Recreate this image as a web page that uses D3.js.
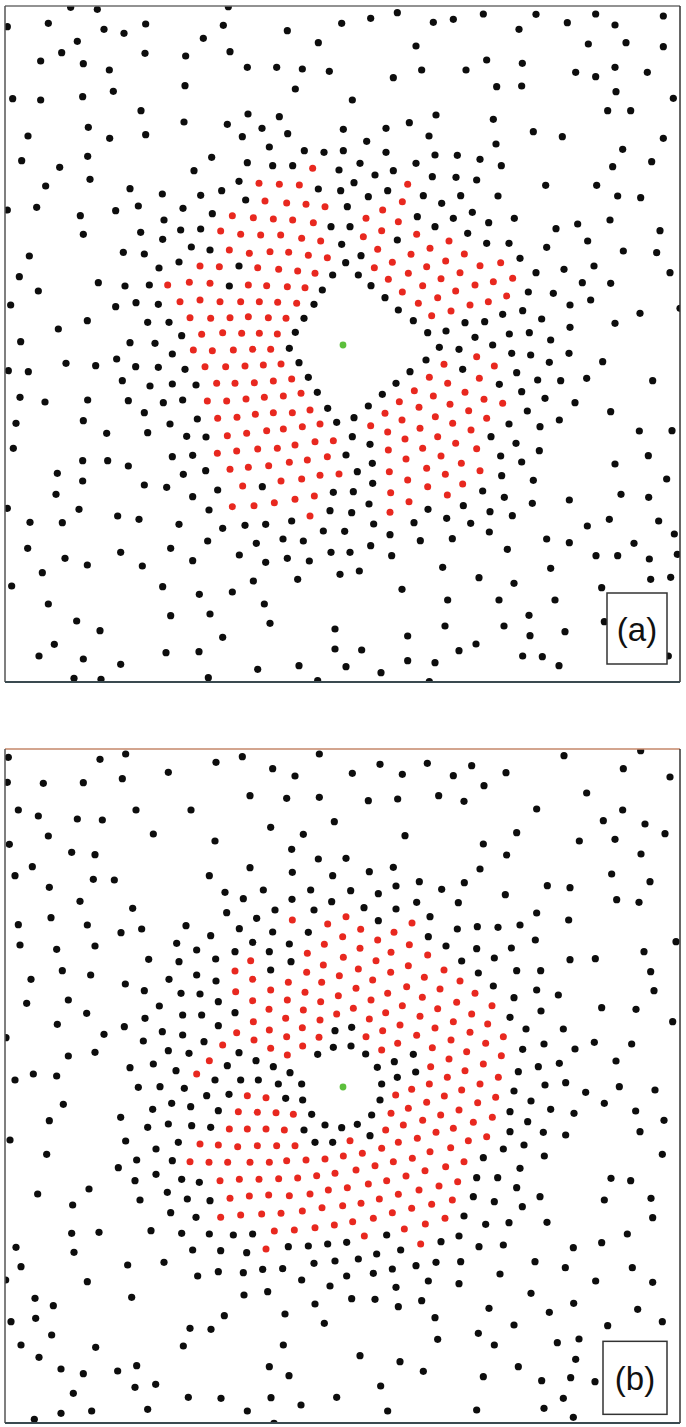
<!DOCTYPE html>
<html><head><meta charset="utf-8">
<script src="https://cdn.jsdelivr.net/npm/d3@7"></script>
<style>html,body{margin:0;padding:0;background:#fff;}svg{display:block;}</style>
</head><body>
<svg id="chart" width="686" height="1427"></svg>
<script>
// Data in panel units (0..2040 horizontally, 0..2050 vertically)
const panelLabels = ["(a)", "(b)"];
const aCenter = [[1029,1035]];
const bCenter = [[1029,1041]];
const aBlack = [
[212,22],[292,28],[685,20],[22,80],[145,70],[312,88],[372,100],[437,72],[670,76],[862,92],
[232,124],[610,115],[955,128],[185,158],[435,160],[557,168],[690,155],
[122,183],[250,191],[328,210],[742,202],[830,202],[907,207],[988,214],[555,257],[886,267],
[38,296],[122,300],[248,290],[340,274],[423,332],[744,342],[838,350],[552,366],[682,373],[786,385],
[265,382],[84,408],[329,415],[437,404],[727,410],[863,401],[808,441],[913,452],[972,457],
[65,482],[263,469],[179,502],[635,472],[742,488],[818,497],[878,497],[1017,510],[270,538],[582,512],
[137,558],[390,566],[487,582],[717,544],[955,567],
[22,630],[110,622],[347,632],[415,618],[549,625],[602,586],[665,572],[737,600],
[241,647],[492,660],[637,641],[993,680],[250,703],[422,697],[488,718],[542,690],[602,687],
[88,768],[370,757],[433,762],[574,741],[630,750],[58,830],[477,804],[537,786],[717,798],[998,825],
[115,873],[295,848],[375,858],[448,855],[688,858],[967,870],[32,915],[347,920],[408,908],[475,913],[942,913],
[262,962],[443,967],[507,967],[912,955],[175,987],[545,1007],[886,997],
[1025,70],[1112,55],[1192,38],[1300,67],[1360,58],[1450,42],[1557,88],[1608,43],[1702,68],[1787,42],[1845,75],[1990,48],
[1248,138],[1765,132],[1878,128],[1990,140],[1460,180],[1567,190],[1265,210],[1398,210],[1180,233],[1727,217],[1787,230],[1845,202],[1942,217],
[1490,260],[1565,258],[1848,275],[1057,300],[2020,295],[1823,332],[1892,332],[1308,345],[1228,368],[1480,358],
[1030,388],[1158,385],[1600,395],[1287,408],[1687,410],[1990,415],[1100,424],[1488,432],[1030,452],[1158,457],[1868,448],
[1305,465],[1372,466],[1440,478],[1080,490],[1248,490],[1504,497],[1838,500],[1955,485],
[1180,512],[1125,525],[1297,530],[1368,532],[1430,540],[1062,548],[1637,556],[1790,556],
[1163,572],[1105,590],[1270,587],[1382,587],[1494,588],[1853,588],[1922,593],[1022,572],[1325,610],[1042,620],[1417,637],
[1252,650],[1360,655],[1466,668],[1543,655],[1733,672],[1830,660],[1050,680],[1305,680],[1403,700],[1668,686],[1980,692],
[1192,720],[1460,730],[1527,730],[1763,723],[1025,733],[1640,742],[1870,753],[1970,758],[1083,767],[1560,775],[1037,788],
[1782,798],[1692,808],[1608,818],[2010,818],[1075,825],[1113,857],[1747,848],[1832,850],[1585,876],[1660,880],
[1155,893],[1772,900],[1710,915],[1195,930],[1568,932],[1508,943],[1920,940],[2040,925],
[1240,962],[1395,968],[1454,965],[1625,957],[1710,982],[1845,970],[1283,998],[1338,993],[1528,1002],[1588,998],[1425,1012],
[62,1025],[390,1028],[465,1030],[868,1045],[517,1062],
[25,1112],[85,1115],[198,1090],[287,1097],[350,1077],[407,1100],[475,1102],[555,1108],[897,1088],
[367,1142],[450,1158],[517,1152],[588,1155],[925,1132],[60,1192],[135,1206],[263,1200],[385,1202],[490,1208],[548,1200],[952,1177],
[48,1270],[250,1262],[433,1238],[510,1272],[592,1257],[983,1225],[320,1300],[443,1298],[560,1309],[618,1311],[1010,1267],
[40,1345],[517,1370],[578,1366],[248,1382],[323,1382],[385,1398],[617,1412],[172,1420],[248,1443],[550,1423],[787,1460],
[168,1483],[433,1455],[500,1462],[653,1470],[578,1490],[1000,1477],[22,1525],[237,1528],[627,1530],[990,1532],
[90,1567],[187,1568],[353,1548],[417,1558],[537,1573],[668,1585],[735,1576],[797,1573],[875,1563],[970,1593],
[83,1645],[512,1645],[623,1623],[769,1630],[849,1617],[910,1623],
[195,1675],[262,1695],[362,1657],[427,1698],[578,1682],[718,1665],[797,1687],[862,1675],[928,1683],[993,1657],[127,1718],
[35,1758],[488,1760],[598,1783],[697,1776],[760,1743],[893,1738],[145,1812],[630,1842],[793,1812],
[230,1863],[300,1892],[512,1847],[810,1870],[1005,1887],[163,1933],[668,1912],[1005,1947],
[117,1968],[250,1977],[362,1993],[498,1958],[597,1955],[897,1997],[222,2035],[303,2038],[625,2033],[773,2008],[953,2042],
[1318,1042],[1377,1048],[1478,1035],[1652,1020],[1535,1060],[1592,1065],[1707,1060],[1648,1087],[1808,1085],
[1278,1080],[1388,1108],[1230,1115],[1550,1118],[1498,1153],[1613,1140],[1682,1142],[1760,1135],[1958,1142],
[1188,1150],[1565,1175],[1147,1183],[1635,1195],[1725,1208],[1105,1218],[1582,1233],[1832,1235],[1062,1253],[1678,1260],
[1527,1272],[1620,1280],[1918,1293],[2016,1292],[1057,1310],[1473,1310],[1548,1330],[1110,1333],[1618,1352],
[1038,1365],[1502,1368],[1565,1386],[1845,1392],[1945,1367],[1117,1390],[1072,1415],[1505,1427],[1600,1441],[2000,1437],
[1118,1450],[1060,1475],[1448,1473],[1513,1492],[1597,1510],[1708,1500],[1863,1483],[1946,1492],
[1107,1512],[1390,1517],[1284,1528],[1470,1535],[1537,1547],[1055,1538],
[1340,1555],[1121,1572],[1242,1568],[1412,1570],[1762,1578],[1828,1558],[1976,1563],[1034,1594],
[1468,1596],[1170,1604],[1261,1622],[1357,1616],[1640,1617],[1708,1628],[1902,1630],[2023,1602],
[1112,1637],[1050,1657],[1175,1667],[1522,1648],[1788,1667],[1853,1667],[1948,1677],[2032,1663],
[1020,1723],[1078,1713],[1328,1702],[1652,1705],[1206,1768],[1437,1733],[1542,1750],[1805,1763],[1952,1738],[2012,1732],
[1343,1800],[1497,1800],[1665,1800],[1970,1798],[1335,1878],[1512,1878],[1587,1846],[1695,1895],[1590,1907],[1813,1865],
[1223,1908],[1428,1932],[1085,1950],[1377,1952],[1223,1982],[1305,1988],[1038,2000],[1568,1968],[1627,1970],[1677,1997],[2005,1968],
[1143,2018],[1288,2045]
];
const aRed = [
[938,505],[777,550],[838,553],[898,555],[795,603],[860,609],[918,613],[975,620],
[697,647],[760,653],[820,657],[878,660],[940,668],[662,693],[722,703],[782,705],[842,705],[905,715],[962,723],
[688,750],[748,760],[810,755],[866,757],[925,766],[982,773],[600,798],[658,800],[773,803],[836,808],[893,813],[945,820],
[503,855],[568,847],[630,850],[745,855],[800,857],[862,860],[915,863],[540,905],[600,900],[660,905],[722,905],[778,905],[833,907],[890,910],
[570,953],[632,955],[690,953],[745,950],[805,953],[858,955],[605,1003],[668,998],[725,1000],[778,1000],[832,1002],
[1223,553],[1207,605],[1148,630],[1098,655],[1195,665],[1145,692],[1090,710],[1250,703],[1347,723],[1133,748],[1290,745],
[1233,763],[1393,762],[1177,787],[1337,783],[1502,788],[1440,797],[1123,803],[1280,800],[1380,818],[1225,820],[1165,838],
[1323,836],[1480,845],[1538,835],[1268,857],[1425,855],[1207,876],[1367,873],[1520,888],[1313,893],[1255,910],[1410,915],
[1465,905],[1353,933],[1295,947],
[580,1050],[637,1052],[700,1050],[758,1048],[812,1048],[615,1100],[677,1100],[735,1098],[790,1095],[843,1092],
[650,1150],[705,1150],[763,1148],[820,1143],[875,1137],[622,1203],[680,1203],[738,1197],[793,1192],[850,1188],[903,1180],
[653,1255],[711,1252],[766,1243],[820,1238],[877,1238],[930,1230],[682,1307],[740,1300],[800,1292],[850,1287],[907,1280],[960,1272],
[652,1360],[710,1353],[773,1347],[832,1345],[885,1335],[945,1325],[1000,1322],[690,1408],[745,1402],[806,1397],[868,1387],[922,1380],[982,1370],
[728,1458],[843,1443],[905,1437],[960,1426],[1017,1422],[885,1498],[943,1488],[697,1520],[762,1517],[823,1508],[930,1548],
[1430,1070],[1483,1098],[1332,1093],[1288,1132],[1438,1135],[1343,1150],[1243,1172],[1395,1177],[1300,1188],[1452,1198],[1508,1210],
[1198,1205],[1257,1222],[1350,1213],[1406,1232],[1155,1240],[1206,1260],[1306,1250],[1460,1255],[1112,1277],[1260,1285],[1358,1270],[1413,1290],
[1163,1296],[1215,1317],[1313,1310],[1268,1345],[1367,1330],[1430,1346],[1165,1350],[1218,1377],[1323,1368],[1384,1390],
[1280,1405],[1168,1415],[1440,1412],[1223,1440],[1336,1423],[1388,1452],[1283,1460],[1172,1478],[1342,1485],[1227,1505],[1170,1537]
];
const bBlack = [
[25,52],[300,58],[377,42],[648,67],[727,50],[958,42],[22,127],[130,130],[250,128],[367,116],[505,97],[818,86],[885,108],
[55,210],[115,228],[232,237],[307,240],[408,210],[573,210],[750,167],[860,175],[958,172],
[145,288],[460,282],[28,313],[645,303],[812,262],[910,283],[1003,245],[215,337],[285,344],[875,328],[955,357],
[97,380],[45,407],[280,418],[343,420],[628,407],[750,383],[877,397],[998,407],[148,442],[675,457],[790,450],[932,450],
[240,484],[398,505],[730,476],[876,478],[995,485],[153,533],[680,518],[825,510],[770,535],[942,510],
[55,554],[262,555],[363,578],[425,567],[558,557],[632,587],[718,566],[818,576],[925,577],
[60,615],[170,628],[285,618],[530,610],[590,630],[758,607],[868,612],[446,658],[537,665],[647,657],[705,635],[808,635],
[187,692],[272,705],[93,718],[812,690],[873,665],[376,732],[507,718],[590,705],[648,723],[433,752],[543,760],[600,762],
[80,790],[205,780],[478,798],[655,785],[260,820],[435,835],[548,825],[605,825],[705,818],
[172,853],[373,860],[487,875],[655,857],[312,883],[430,903],[548,885],[612,905],[1005,872],
[205,948],[285,937],[505,932],[567,940],[717,938],[1000,922],[460,972],[390,983],[528,992],[682,977],[768,962],[953,943],[820,980],
[100,1002],[170,1008],[45,1020],[870,998],[18,893],
[1057,100],[1140,73],[1207,103],[1282,70],[1360,107],[1415,77],[1518,98],[1692,47],[1922,32],[1870,86],[2010,111],
[1105,182],[1193,177],[1316,167],[1392,184],[1452,137],[1610,207],[1760,159],[1868,210],
[1215,287],[1550,278],[1450,312],[1520,345],[1738,303],[1810,242],[1845,298],[1935,252],[1995,281],[1038,355],[1923,342],
[1108,395],[1180,382],[1440,387],[1835,402],
[1052,452],[1135,461],[1188,438],[1258,425],[1325,448],[1393,428],[1516,464],[1642,437],[1710,443],[1950,425],
[1092,503],[1188,507],[1250,487],[1375,488],[1850,479],[1917,487],[1135,542],[1290,530],[1610,519],[1706,540],
[1372,567],[1432,560],[1494,562],[1560,555],[1285,590],[1606,600],[2028,605],[1338,618],[1430,626],[1534,624],[1932,635],
[1385,663],[1483,654],[1710,659],[1786,656],[1435,699],[1550,692],[1622,692],[1952,695],[1480,738],
[1610,750],[1542,773],[1675,765],[1962,752],[1623,813],[1805,803],[1908,808],[1530,832],[2018,845],
[1055,862],[1578,867],[1690,867],[1053,918],[1568,928],[1632,912],[1725,927],[1783,907],[1895,912],
[1097,942],[1240,943],[1183,965],[1132,982],[1678,970],[1615,980],[1848,963],[1247,996],[1192,1012],[1555,995],
[415,1042],[480,1040],[553,1045],[835,1032],[905,1032],[645,1020],[722,1020],[775,1020],
[190,1093],[620,1067],[687,1063],[857,1075],[908,1080],
[148,1142],[362,1132],[458,1108],[515,1090],[572,1100],[655,1112],[935,1123],
[30,1200],[377,1203],[443,1162],[505,1152],[575,1157],[632,1162],[912,1170],[975,1155],
[140,1243],[468,1227],[535,1207],[945,1207],[998,1207],[355,1283],[410,1260],[517,1262],
[267,1347],[113,1362],[405,1322],[468,1303],[545,1318],[598,1327],[218,1395],[420,1380],[502,1357],[562,1377],[630,1382],
[512,1418],[588,1432],[215,1480],[297,1477],[453,1472],[545,1480],[628,1482],[700,1485],[758,1482],
[48,1522],[222,1537],[578,1530],[662,1532],[740,1538],[865,1520],[925,1518],[983,1512],
[63,1580],[383,1575],[492,1567],[942,1570],[1005,1563],
[17,1620],[262,1625],[593,1608],[655,1595],[730,1598],[788,1588],[848,1586],[905,1620],[990,1638],
[105,1675],[160,1697],[395,1672],[732,1665],[803,1655],[945,1692],[33,1745],[107,1735],[673,1727],[855,1722],[973,1750],
[155,1785],[570,1765],[633,1768],[63,1815],[287,1822],[550,1818],[850,1815],[117,1852],[808,1880],
[183,1887],[250,1901],[353,1893],[410,1877],[867,1907],[405,1942],[467,1933],
[220,1960],[565,1972],[663,1975],[813,1973],[1010,1972],[183,2020],[275,2013],[443,2008],[742,2013],[903,1995],[103,2038],[822,2050],
[1145,1032],[1635,1035],[1697,1028],[1757,1057],[1858,1040],[1965,1050],
[1140,1080],[1542,1053],[1593,1083],[1652,1108],[1813,1090],[1907,1113],[1992,1141],
[1115,1125],[1530,1115],[1583,1145],[1722,1120],[1025,1163],[1072,1153],[1110,1187],[1530,1175],[1630,1177],[1697,1185],[1920,1175],
[1572,1215],[1510,1227],[1633,1248],[1987,1243],[1450,1253],[1560,1285],[1430,1313],[1493,1313],[1833,1315],[1892,1322],[1550,1343],
[1420,1370],[1483,1385],[1620,1370],[1813,1380],[1953,1375],[1567,1400],[1392,1428],
[1457,1453],[1527,1448],[1641,1447],[1958,1433],
[1160,1485],[1040,1507],[1202,1530],[1323,1505],[1377,1488],[1437,1520],[1510,1515],[1720,1523],[1805,1508],[1882,1482],
[1075,1557],[1130,1542],[1177,1587],[1248,1577],[1308,1567],[1382,1565],[1605,1565],[1696,1583],[1897,1583],
[1040,1608],[1120,1600],[1188,1642],[1285,1623],[1377,1631],[1500,1602],[1593,1660],[1787,1623],[1958,1627],
[1055,1676],[1125,1678],[1195,1700],[1265,1682],[1467,1705],[1648,1717],[1721,1690],[1913,1708],
[1305,1733],[1542,1755],[1823,1757],[1987,1745],[1313,1798],[1435,1780],[1483,1815],[1672,1808],[1737,1797],
[1080,1847],[1200,1865],[1270,1894],[1555,1880],[1727,1858],[1142,1938],[1450,1910],[1625,1922],[1712,1913],[1785,1925],
[1163,2013],[1430,2010],[1632,2005],[1690,1975],[1720,2032]
];
const bRed = [
[877,540],[983,552],[973,613],[922,640],[752,662],[970,675],[705,693],[758,718],[865,727],[920,697],[1018,707],
[707,755],[812,750],[965,727],[758,782],[862,780],[915,757],[962,785],[1015,767],[807,808],[910,810],[1010,822],
[760,845],[857,835],[960,840],[710,878],[808,870],[907,863],[668,915],[762,900],[860,890],[957,892],[812,925],[908,918],
[628,962],[862,945],[590,1002],
[1038,530],[1236,549],[1082,568],[1182,577],[1028,590],[1133,600],[1228,614],[1080,625],[1173,637],
[1030,652],[1128,662],[1283,645],[1075,687],[1225,677],[1332,690],[1118,720],[1172,697],[1273,712],[1380,723],
[1068,745],[1220,740],[1320,747],[1425,760],[1163,760],[1113,780],[1267,772],[1370,787],[1476,797],
[1060,805],[1207,797],[1313,806],[1415,822],[1157,818],[1108,837],[1260,829],[1360,845],[1463,852],
[1200,855],[1148,872],[1305,864],[1410,877],[1098,890],[1250,886],[1510,890],[1353,900],[1457,910],
[1145,930],[1193,910],[1297,923],[1400,935],[1347,957],[1504,947],[1292,980],[1450,972],[1342,1012],[1395,992],[1495,1012],
[742,1067],[798,1073],[715,1115],[772,1117],[828,1118],[880,1123],[688,1167],[742,1167],[798,1167],[853,1170],
[600,1212],[655,1215],[713,1220],[772,1217],[830,1217],[885,1217],
[570,1265],[627,1267],[683,1267],[750,1267],[808,1267],[860,1262],[918,1260],[975,1257],
[660,1322],[718,1318],[777,1318],[836,1316],[893,1314],[950,1307],[1005,1300],
[690,1375],[748,1368],[806,1365],[868,1367],[930,1362],[985,1350],
[662,1432],[722,1425],[785,1422],[843,1420],[907,1413],[966,1403],[823,1473],[883,1470],[945,1463],[1003,1455],[798,1527],
[1288,1032],[1440,1032],[1187,1065],[1235,1048],[1333,1068],[1385,1050],[1487,1072],[1280,1087],[1433,1088],
[1173,1120],[1225,1105],[1322,1125],[1377,1110],[1477,1132],[1210,1155],[1268,1141],[1420,1147],[1360,1165],[1157,1170],[1308,1177],[1460,1190],
[1050,1202],[1195,1207],[1252,1195],[1405,1202],[1030,1248],[1087,1240],[1145,1225],[1290,1235],[1352,1223],
[1125,1277],[1180,1265],[1237,1255],[1337,1280],[1392,1265],[1068,1290],[1218,1308],[1275,1292],
[1105,1332],[1160,1322],[1317,1338],[1373,1325],[1042,1343],[1195,1363],[1257,1350],[1357,1380],
[1028,1397],[1083,1390],[1138,1377],[1235,1405],[1295,1393],
[1058,1445],[1120,1435],[1177,1418],[1276,1452],[1213,1467],[1335,1435],[1093,1488],[1262,1512]
];

const svg = d3.select("#chart");
const x = d3.scaleLinear().domain([15, 2040]).range([5, 680]);
const panels = [
  {id:"a", black:aBlack, red:aRed, center:aCenter, label:panelLabels[0],
   y: d3.scaleLinear().domain([18, 2046]).range([6, 682]), topColor:"#6e6e6e",
   box:{x0:1821, x1:2001, y0:1779, y1:1992}},
  {id:"b", black:bBlack, red:bRed, center:bCenter, label:panelLabels[1],
   y: d3.scaleLinear().domain([27, 2049]).range([749, 1423]), topColor:"#c4876a",
   box:{x0:1809, x1:2001, y0:1804, y1:2023}}
];

panels.forEach(p => {
  const x0 = x(15), x1 = x(2040), y0 = p.y.domain()[0], y1 = p.y.domain()[1];
  const top = p.y(y0), bot = p.y(y1);
  svg.append("clipPath").attr("id","clip-"+p.id).append("rect")
    .attr("x", x0).attr("y", top).attr("width", x1-x0).attr("height", bot-top);
  const g = svg.append("g").attr("clip-path","url(#clip-"+p.id+")");
  g.selectAll("circle.blk").data(p.black).join("circle").attr("class","blk")
    .attr("cx", d => x(d[0])).attr("cy", d => p.y(d[1])).attr("r", 3.6).attr("fill", "#0d0d0d");
  g.selectAll("circle.red").data(p.red).join("circle").attr("class","red")
    .attr("cx", d => x(d[0])).attr("cy", d => p.y(d[1])).attr("r", 3.5).attr("fill", "#e8281f");
  g.selectAll("circle.ctr").data(p.center).join("circle").attr("class","ctr")
    .attr("cx", d => x(d[0])).attr("cy", d => p.y(d[1])).attr("r", 3.4).attr("fill", "#5cbf3c");
  // frame
  svg.append("line").attr("x1",x0).attr("x2",x1).attr("y1",top).attr("y2",top).attr("stroke",p.topColor).attr("stroke-width",1.3);
  svg.append("line").attr("x1",x0).attr("x2",x0).attr("y1",top).attr("y2",bot).attr("stroke","#555").attr("stroke-width",1.5);
  svg.append("line").attr("x1",x1).attr("x2",x1).attr("y1",top).attr("y2",bot).attr("stroke","#333").attr("stroke-width",1.5);
  svg.append("line").attr("x1",x0).attr("x2",x1).attr("y1",bot).attr("y2",bot).attr("stroke","#3a4a50").attr("stroke-width",2);
  // label box
  const b = p.box;
  svg.append("rect").attr("x", x(b.x0)).attr("y", p.y(b.y0)).attr("width", x(b.x1)-x(b.x0)).attr("height", p.y(b.y1)-p.y(b.y0))
    .attr("fill","#fff").attr("stroke","#333").attr("stroke-width",1.5);
  svg.append("text").attr("x", (x(b.x0)+x(b.x1))/2).attr("y", (p.y(b.y0)+p.y(b.y1))/2 + 12)
    .attr("text-anchor","middle").attr("font-family","Liberation Sans, Arial, sans-serif").attr("font-size",33)
    .attr("fill","#111").text(p.label);
});
</script>
</body></html>
